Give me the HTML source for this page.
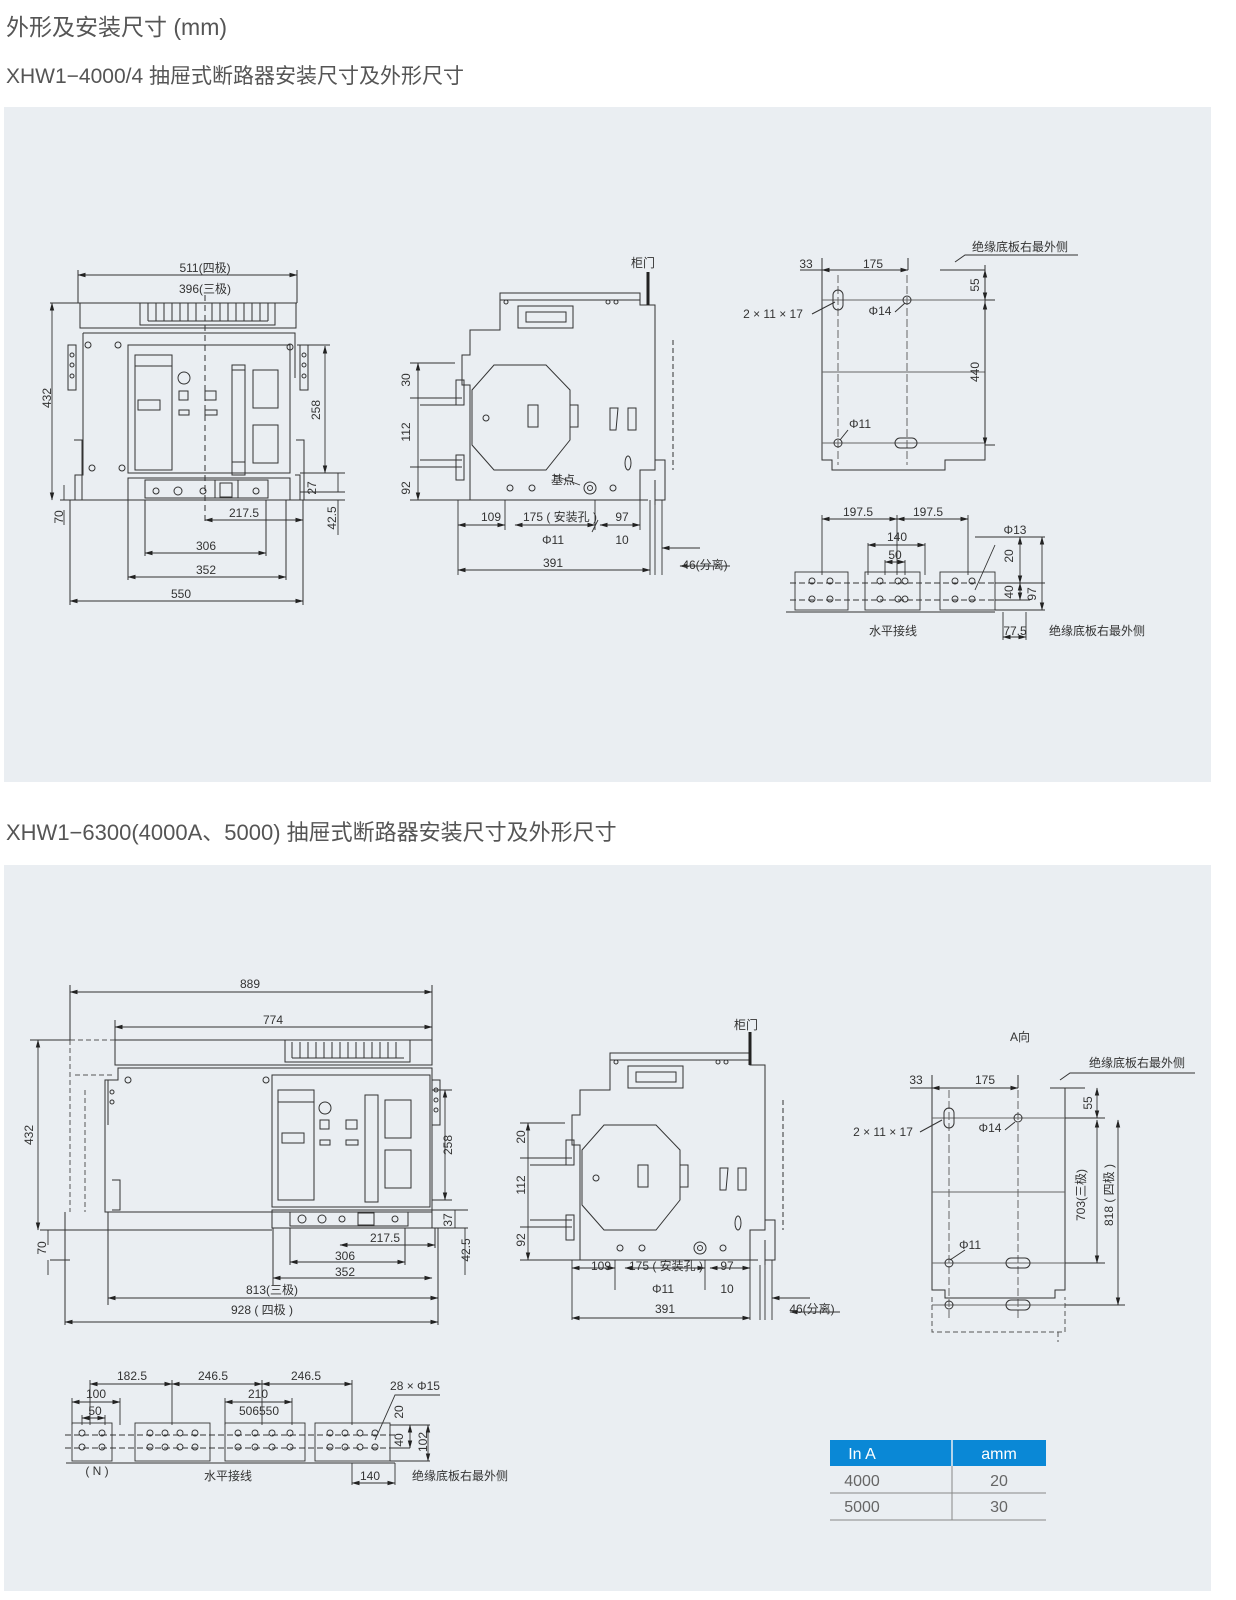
<!DOCTYPE html>
<html><head><meta charset="utf-8"><style>
html,body{margin:0;padding:0;background:#fff}
svg{display:block}
text{font-family:"Liberation Sans","Noto Sans CJK SC",sans-serif;fill:#333}
.d{font-size:12px}
.h{fill:#555}
</style></head><body>
<svg width="1236" height="1600" viewBox="0 0 1236 1600" xmlns="http://www.w3.org/2000/svg">
<defs>
<marker id="a" markerWidth="8" markerHeight="6" refX="7.5" refY="3" orient="auto-start-reverse" markerUnits="userSpaceOnUse"><path d="M0,0.8 L8,3 L0,5.2z" fill="#222"/></marker>
<g id="side" fill="none" stroke="#333" stroke-width="1">
<path d="M500,293 H640 V305 H655 V470 H640 V500 H470 V385 H462 V355 H470 V330 H500 Z"/>
<path d="M500,300 H640"/>
<rect x="518" y="306" width="55" height="22"/><rect x="526" y="312" width="40" height="10"/>
<path d="M494,365 L546,365 L570,390 L570,440 L546,470 L494,470 L472,445 L472,390 Z"/>
<rect x="528" y="405" width="10" height="22"/><rect x="570" y="405" width="8" height="22"/>
<path d="M610,408 h8 l-2,22 h-6z M628,408 h8 v22 h-8z"/>
<ellipse cx="628" cy="463" rx="3" ry="7"/>
<path d="M420,398 H462 M420,405 H462 M420,460 H462 M420,467 H462"/>
<rect x="456" y="380" width="8" height="25"/><rect x="456" y="455" width="8" height="25"/>
<circle cx="510" cy="488" r="3"/><circle cx="532" cy="488" r="3"/><circle cx="590" cy="488" r="6"/><circle cx="590" cy="488" r="2.5"/><circle cx="613" cy="488" r="3"/>
<circle cx="486" cy="418" r="3"/><circle cx="506" cy="302" r="2"/><circle cx="608" cy="302" r="2"/><circle cx="616" cy="302" r="2"/>
<path d="M673,340 V470" stroke-dasharray="5,3"/>
<path d="M648,500 H640 M655,480 V505"/>
<path d="M655,460 H665 V500 H655"/>
</g>
</defs>

<text x="6" y="35" font-size="23" class="h">外形及安装尺寸 (mm)</text>
<text x="6" y="83" font-size="21" class="h">XHW1−4000/4 抽屉式断路器安装尺寸及外形尺寸</text>
<rect x="4" y="107" width="1207" height="675" fill="#eaeef2"/>
<text x="6" y="840" font-size="22" class="h">XHW1−6300(4000A、5000) 抽屉式断路器安装尺寸及外形尺寸</text>
<rect x="4" y="865" width="1207" height="726" fill="#eaeef2"/>

<!-- FIG 1 front -->
<g fill="none" stroke="#333" stroke-width="1">
<path d="M50,303 H297"/>
<rect x="80" y="303" width="216" height="25"/>
<rect x="140" y="303" width="135" height="22"/>
<path d="M148,303 v18 M156,303 v18 M164,303 v18 M172,303 v18 M180,303 v18 M188,303 v18 M196,303 v18 M212,303 v18 M220,303 v18 M228,303 v18 M236,303 v18 M244,303 v18 M252,303 v18 M260,303 v18 M268,303 v18 M148,321 H268"/>
<path d="M83,333 H295 V378 M83,333 V475 H75 V500 H300 V475 H295"/>
<rect x="128" y="345" width="162" height="128"/>
<rect x="135" y="355" width="37" height="115"/><path d="M135,366 H172"/><rect x="138" y="400" width="22" height="10"/>
<circle cx="184" cy="378" r="6"/><rect x="179" y="391" width="9" height="9"/><rect x="179" y="410" width="10" height="5"/>
<rect x="205" y="391" width="11" height="9"/><rect x="205" y="410" width="12" height="5"/>
<rect x="232" y="365" width="13" height="110"/><path d="M232,370 H245 M232,462 H245"/>
<rect x="253" y="370" width="25" height="38"/><rect x="253" y="425" width="25" height="38"/>
<rect x="128" y="478" width="162" height="22"/><path d="M145,480 V498 H268 V480 Z M215,480 v18 M238,480 v18"/>
<circle cx="156" cy="491" r="3"/><circle cx="178" cy="491" r="4"/><circle cx="203" cy="491" r="3"/><circle cx="256" cy="491" r="3"/><rect x="220" y="483" width="12" height="14"/>
<path d="M68,345 h8 v45 h-8z M300,345 h8 v45 h-8z"/>
<circle cx="72" cy="355" r="2"/><circle cx="72" cy="365" r="2"/><circle cx="72" cy="376" r="2"/><circle cx="304" cy="355" r="2"/><circle cx="304" cy="365" r="2"/><circle cx="304" cy="376" r="2"/>
<circle cx="88" cy="345" r="3"/><circle cx="118" cy="345" r="3"/><circle cx="290" cy="347" r="3"/><circle cx="92" cy="468" r="3"/><circle cx="122" cy="468" r="3"/>
<path d="M74,440 H82 V500 M296,440 H304 V500"/>
<path d="M205,295 V525" stroke-dasharray="6,4"/>
<path d="M297,345 H330 M300,473 H345 M300,492 H345 M300,500 H345 M60,500 H75"/>
<path d="M70,500 V605 M303,500 V605 M128,500 V580 M286,500 V580 M145,500 V556 M266,500 V556 M78,270 V303 M297,270 V303"/>
</g>
<g stroke="#333" stroke-width="0.9" marker-start="url(#a)" marker-end="url(#a)">
<path d="M78,275 H297"/><path d="M52,303 V500"/><path d="M325,346 V473"/>
<path d="M205,520 H303"/><path d="M145,553 H266"/><path d="M128,577 H286"/><path d="M70,601 H303"/>
</g>
<g stroke="#333" stroke-width="0.9"><path d="M64,485 V500 M64,510 V525 M338,473 V492 M338,500 V535"/></g>
<g class="d" text-anchor="middle">
<text x="205" y="272">511(四极)</text><text x="205" y="293">396(三极)</text>
<text x="244" y="517">217.5</text><text x="206" y="550">306</text><text x="206" y="574">352</text><text x="181" y="598">550</text>
<text transform="translate(51,398) rotate(-90)">432</text><text transform="translate(63,517) rotate(-90)">70</text>
<text transform="translate(320,410) rotate(-90)">258</text><text transform="translate(316,488) rotate(-90)">27</text>
<text transform="translate(336,518) rotate(-90)">42.5</text>
</g>

<!-- FIG 2 side -->
<use href="#side"/>
<path d="M648,272 V305" stroke="#222" stroke-width="3"/>
<g stroke="#333" stroke-width="0.9" fill="none">
<path d="M410,363 H455 M410,398 H420 M410,467 H420 M410,500 H470"/>
<path d="M458,500 V575 M505,500 V530 M595,500 V530 M640,500 V530 M650,500 V575 M655,505 V575 M662,500 V575"/>
<path d="M553,475 L580,485" /><path d="M592,532 L598,520"/>
</g>
<g stroke="#333" stroke-width="0.9" marker-start="url(#a)" marker-end="url(#a)">
<path d="M418,363 V500"/><path d="M458,525 H505"/><path d="M515,525 H595"/><path d="M600,525 H640"/><path d="M458,570 H650"/>
</g>
<g stroke="#333" stroke-width="0.9" marker-end="url(#a)"><path d="M700,548 H662"/><path d="M730,566 H680"/></g>
<g class="d" text-anchor="middle">
<text x="643" y="267">柜门</text><text x="563" y="484">基点</text>
<text transform="translate(410,380) rotate(-90)">30</text><text transform="translate(410,432) rotate(-90)">112</text><text transform="translate(410,488) rotate(-90)">92</text>
<text x="491" y="521">109</text><text x="560" y="521">175 ( 安装孔 )</text><text x="622" y="521">97</text>
<text x="553" y="544">Φ11</text><text x="622" y="544">10</text><text x="553" y="567">391</text><text x="705" y="569">46(分离)</text>
</g>

<!-- FIG 3 plate -->
<g fill="none" stroke="#333" stroke-width="1">
<path d="M822,270 V460 H832 V470 H945 V460 H985 V270 H940 V270"/>
<path d="M822,300 H985 M822,372 H985 M822,443 H985" stroke="#666"/>
<path d="M907,275 V465 M838,275 V465" stroke="#666" stroke-dasharray="8,3"/>
<rect x="833" y="290" width="10" height="20" rx="5"/><circle cx="907" cy="300" r="4"/><circle cx="838" cy="443" r="4"/><rect x="895" y="438" width="22" height="10" rx="5"/>
<path d="M940,270 H985 V265 M955,262 L965,255 H1078"/>
<path d="M800,270 H822 M985,300 H995 M985,445 H995 M822,258 V270 M908,258 V270"/>
<path d="M812,314 L835,302 M895,312 L905,303 M848,430 L840,440"/>
</g>
<g stroke="#333" stroke-width="0.9" marker-start="url(#a)" marker-end="url(#a)"><path d="M822,270 H908"/><path d="M985,270 V300"/><path d="M985,302 V445"/></g>
<g class="d" text-anchor="middle">
<text x="1020" y="251">绝缘底板右最外侧</text><text x="806" y="268">33</text><text x="873" y="268">175</text>
<text x="773" y="318">2 × 11 × 17</text><text x="880" y="315">Φ14</text><text x="860" y="428">Φ11</text>
<text transform="translate(979,285) rotate(-90)">55</text><text transform="translate(979,372) rotate(-90)">440</text>
</g>

<!-- FIG 4 wiring -->
<g fill="none" stroke="#333" stroke-width="0.9">
<rect x="795" y="572" width="53" height="38"/><rect x="865" y="572" width="55" height="38"/><rect x="940" y="572" width="55" height="38"/>
<path d="M790,583 H1000 M790,600 H1000" stroke-dasharray="6,3"/>
<path d="M786,612 H995 M822,515 V575 M897,515 V575 M968,515 V575 M868,543 V575 M925,543 V575 M885,560 V575 M905,560 V575 M975,537 H1045 M995,583 H1045 M995,600 H1030 M995,610 H1045 M1003,612 V640 M1026,612 V640"/>
<circle cx="812" cy="581" r="3"/><circle cx="830" cy="581" r="3"/><circle cx="812" cy="599" r="3"/><circle cx="830" cy="599" r="3"/>
<circle cx="880" cy="581" r="3"/><circle cx="898" cy="581" r="3"/><circle cx="905" cy="581" r="3"/><circle cx="880" cy="599" r="3"/><circle cx="898" cy="599" r="3"/><circle cx="905" cy="599" r="3"/>
<circle cx="955" cy="581" r="3"/><circle cx="972" cy="581" r="3"/><circle cx="955" cy="599" r="3"/><circle cx="972" cy="599" r="3"/>
<path d="M975,590 L995,545"/>
</g>
<g stroke="#333" stroke-width="0.9" marker-start="url(#a)" marker-end="url(#a)"><path d="M822,519 H897"/><path d="M897,519 H968"/><path d="M868,545 H925"/><path d="M885,562 H905"/><path d="M1020,537 V583"/><path d="M1020,583 V600"/><path d="M1042,537 V610"/><path d="M1003,637 H1026"/></g>
<g class="d" text-anchor="middle">
<text x="858" y="516">197.5</text><text x="928" y="516">197.5</text><text x="897" y="541">140</text><text x="895" y="559">50</text><text x="1015" y="534">Φ13</text>
<text transform="translate(1013,556) rotate(-90)">20</text><text transform="translate(1013,592) rotate(-90)">40</text><text transform="translate(1036,594) rotate(-90)">97</text>
<text x="893" y="635">水平接线</text><text x="1015" y="635">77.5</text><text x="1097" y="635">绝缘底板右最外侧</text>
</g>

<!-- FIG 5 front large -->
<g fill="none" stroke="#333" stroke-width="1">
<rect x="115" y="1040" width="317" height="25"/>
<rect x="285" y="1040" width="125" height="22"/>
<path d="M292,1042 v16 M300,1042 v16 M308,1042 v16 M316,1042 v16 M324,1042 v16 M332,1042 v16 M340,1042 v16 M348,1042 v16 M356,1042 v16 M364,1042 v16 M372,1042 v16 M380,1042 v16 M388,1042 v16 M396,1042 v16 M292,1058 H404"/>
<path d="M118,1068 H432 V1212 H105 V1080 H118 Z"/>
<path d="M70,1040 H115 M70,1040 V1212 M75,1075 H115 M85,1090 V1212" stroke-dasharray="5,3" stroke="#555"/>
<rect x="272" y="1075" width="158" height="132"/>
<rect x="278" y="1090" width="36" height="110"/><path d="M278,1102 H314"/><rect x="282" y="1133" width="22" height="10"/>
<circle cx="325" cy="1108" r="6"/><rect x="320" y="1120" width="9" height="9"/><rect x="320" y="1140" width="10" height="5"/>
<rect x="346" y="1120" width="11" height="9"/><rect x="346" y="1140" width="12" height="5"/>
<rect x="365" y="1095" width="13" height="107"/>
<rect x="385" y="1100" width="26" height="38"/><rect x="385" y="1150" width="26" height="38"/>
<rect x="272" y="1210" width="160" height="18"/><path d="M290,1212 V1226 H408 V1212 Z"/>
<circle cx="302" cy="1219" r="4"/><circle cx="322" cy="1219" r="4"/><circle cx="342" cy="1219" r="3"/><rect x="358" y="1213" width="16" height="12"/><circle cx="395" cy="1219" r="3"/>
<path d="M432,1080 h8 v45 h-8 M108,1080 v45 M112,1180 h8 v30 h-8"/>
<circle cx="128" cy="1080" r="3"/><circle cx="266" cy="1080" r="3"/><circle cx="436" cy="1090" r="2"/><circle cx="436" cy="1100" r="2"/><circle cx="436" cy="1110" r="2"/><circle cx="112" cy="1092" r="2"/><circle cx="112" cy="1102" r="2"/>
<path d="M30,1040 H70 M40,1230 H272 M50,1260 H70 M432,1090 H452 M432,1200 H452 M432,1210 H468 M432,1228 H468"/>
<path d="M70,985 V1040 M432,985 V1040 M115,1020 V1040 M65,1212 V1325 M108,1212 V1305 M438,1228 V1325 M273,1228 V1285 M290,1228 V1265 M405,1228 V1265 M435,1228 V1248"/>
</g>
<g stroke="#333" stroke-width="0.9" marker-start="url(#a)" marker-end="url(#a)">
<path d="M70,992 H432"/><path d="M115,1027 H432"/><path d="M38,1040 V1230"/><path d="M445,1090 V1200"/>
<path d="M340,1245 H435"/><path d="M290,1262 H405"/><path d="M273,1278 H432"/><path d="M108,1298 H438"/><path d="M65,1322 H438"/>
</g>
<g stroke="#333" stroke-width="0.9"><path d="M48,1245 V1230 M48,1260 V1275 M455,1210 V1228 M465,1228 V1275"/></g>
<g class="d" text-anchor="middle">
<text x="250" y="988">889</text><text x="273" y="1024">774</text>
<text transform="translate(33,1135) rotate(-90)">432</text><text transform="translate(46,1248) rotate(-90)">70</text>
<text transform="translate(452,1145) rotate(-90)">258</text><text transform="translate(452,1220) rotate(-90)">37</text><text transform="translate(470,1250) rotate(-90)">42.5</text>
<text x="385" y="1242">217.5</text><text x="345" y="1260">306</text><text x="345" y="1276">352</text><text x="272" y="1294">813(三极)</text><text x="262" y="1314">928 ( 四极 )</text>
</g>

<!-- FIG 6 side large -->
<use href="#side" transform="translate(110,760)"/>
<path d="M750,1032 V1065" stroke="#222" stroke-width="3"/>
<g stroke="#333" stroke-width="0.9" fill="none">
<path d="M520,1123 H565 M520,1158 H530 M520,1227 H530 M520,1260 H580"/>
<path d="M572,1260 V1320 M615,1260 V1290 M705,1260 V1290 M750,1260 V1320 M760,1265 V1320 M765,1265 V1320 M772,1260 V1320"/>
</g>
<g stroke="#333" stroke-width="0.9" marker-start="url(#a)" marker-end="url(#a)">
<path d="M528,1123 V1260"/><path d="M572,1268 H615"/><path d="M625,1268 H705"/><path d="M710,1268 H750"/><path d="M572,1318 H750"/>
</g>
<g stroke="#333" stroke-width="0.9" marker-end="url(#a)"><path d="M810,1298 H772"/><path d="M840,1312 H790"/></g>
<g class="d" text-anchor="middle">
<text x="746" y="1029">柜门</text>
<text transform="translate(525,1137) rotate(-90)">20</text><text transform="translate(525,1185) rotate(-90)">112</text><text transform="translate(525,1240) rotate(-90)">92</text>
<text x="601" y="1270">109</text><text x="666" y="1270">175 ( 安装孔 )</text><text x="727" y="1270">97</text>
<text x="663" y="1293">Φ11</text><text x="727" y="1293">10</text><text x="665" y="1313">391</text><text x="812" y="1313">46(分离)</text>
</g>

<!-- FIG 7 plate large -->
<g fill="none" stroke="#333" stroke-width="1">
<path d="M932,1088 V1290 H945 V1298 H1055 V1290 H1065 V1088"/>
<path d="M932,1297 V1332 H1065 V1297 M1058,1332 V1342" stroke-dasharray="5,3" stroke="#555"/>
<path d="M932,1118 H1065 M932,1192 H1065 M932,1263 H1065 M932,1305 H1065" stroke="#666"/>
<path d="M949,1090 V1320 M1018,1090 V1320" stroke="#666" stroke-dasharray="8,3"/>
<rect x="944" y="1108" width="10" height="20" rx="5"/><circle cx="1018" cy="1118" r="4"/><circle cx="949" cy="1263" r="4"/><circle cx="949" cy="1305" r="4"/>
<rect x="1006" y="1258" width="24" height="10" rx="5"/><rect x="1006" y="1300" width="24" height="10" rx="5"/>
<path d="M1050,1088 H1085 M1060,1080 L1070,1073 H1195"/>
<path d="M910,1088 H932 M1065,1118 H1105 M1065,1305 H1125 M1065,1263 H1105 M932,1075 V1088 M1018,1075 V1088"/>
<path d="M920,1132 L942,1120 M1005,1130 L1015,1122 M965,1250 L950,1260"/>
</g>
<g stroke="#333" stroke-width="0.9" marker-start="url(#a)" marker-end="url(#a)"><path d="M932,1088 H1018"/><path d="M1097,1088 V1118"/><path d="M1097,1120 V1263"/><path d="M1118,1120 V1305"/></g>
<g class="d" text-anchor="middle">
<text x="1020" y="1041">A向</text><text x="1137" y="1067">绝缘底板右最外侧</text><text x="916" y="1084">33</text><text x="985" y="1084">175</text>
<text x="883" y="1136">2 × 11 × 17</text><text x="990" y="1132">Φ14</text><text x="970" y="1249">Φ11</text>
<text transform="translate(1092,1103) rotate(-90)">55</text><text transform="translate(1085,1195) rotate(-90)">703(三极)</text><text transform="translate(1113,1195) rotate(-90)">818 ( 四极 )</text>
</g>

<!-- FIG 8 wiring large -->
<g fill="none" stroke="#333" stroke-width="0.9">
<rect x="72" y="1423" width="40" height="38"/><rect x="135" y="1423" width="75" height="38"/><rect x="225" y="1423" width="80" height="38"/><rect x="315" y="1423" width="75" height="38"/>
<path d="M65,1435 H395 M65,1448 H395" stroke-dasharray="6,3"/>
<path d="M66,1463 H395 M90,1380 V1425 M172,1380 V1425 M262,1380 V1425 M352,1380 V1425 M72,1398 V1425 M120,1398 V1425 M225,1398 V1425 M292,1398 V1425 M82,1415 V1425 M105,1415 V1425 M390,1425 H430 M390,1448 H410 M390,1461 H430 M352,1463 V1485 M395,1463 V1485"/>
<circle cx="82" cy="1433" r="3"/><circle cx="102" cy="1433" r="3"/><circle cx="82" cy="1447" r="3"/><circle cx="102" cy="1447" r="3"/>
<circle cx="150" cy="1433" r="3"/><circle cx="165" cy="1433" r="3"/><circle cx="180" cy="1433" r="3"/><circle cx="195" cy="1433" r="3"/><circle cx="150" cy="1447" r="3"/><circle cx="165" cy="1447" r="3"/><circle cx="180" cy="1447" r="3"/><circle cx="195" cy="1447" r="3"/>
<circle cx="238" cy="1433" r="3"/><circle cx="255" cy="1433" r="3"/><circle cx="272" cy="1433" r="3"/><circle cx="290" cy="1433" r="3"/><circle cx="238" cy="1447" r="3"/><circle cx="255" cy="1447" r="3"/><circle cx="272" cy="1447" r="3"/><circle cx="290" cy="1447" r="3"/>
<circle cx="330" cy="1433" r="3"/><circle cx="345" cy="1433" r="3"/><circle cx="360" cy="1433" r="3"/><circle cx="375" cy="1433" r="3"/><circle cx="330" cy="1447" r="3"/><circle cx="345" cy="1447" r="3"/><circle cx="360" cy="1447" r="3"/><circle cx="375" cy="1447" r="3"/>
<path d="M375,1440 L395,1395 H440"/>
</g>
<g stroke="#333" stroke-width="0.9" marker-start="url(#a)" marker-end="url(#a)"><path d="M90,1384 H172"/><path d="M172,1384 H262"/><path d="M262,1384 H352"/><path d="M72,1402 H120"/><path d="M225,1402 H292"/><path d="M82,1418 H105"/><path d="M410,1425 V1448"/><path d="M428,1425 V1461"/><path d="M352,1483 H395"/></g>
<g class="d" text-anchor="middle">
<text x="132" y="1380">182.5</text><text x="213" y="1380">246.5</text><text x="306" y="1380">246.5</text><text x="96" y="1398">100</text><text x="258" y="1398">210</text>
<text x="95" y="1415">50</text><text x="259" y="1415">506550</text><text x="415" y="1390">28 × Φ15</text>
<text transform="translate(403,1412) rotate(-90)">20</text><text transform="translate(403,1440) rotate(-90)">40</text><text transform="translate(427,1442) rotate(-90)">102</text>
<text x="97" y="1475">( N )</text><text x="228" y="1480">水平接线</text><text x="370" y="1480">140</text><text x="460" y="1480">绝缘底板右最外侧</text>
</g>

<!-- table -->
<rect x="830" y="1440" width="216" height="26" fill="#0a88d6"/>
<path d="M952,1440 V1520" stroke="#888" stroke-width="1"/><path d="M952,1440 V1466" stroke="#eaeef2" stroke-width="1.5"/>
<path d="M830,1493 H1046 M830,1520 H1046" stroke="#888" stroke-width="1"/>
<g font-size="16" text-anchor="middle">
<text x="862" y="1459" style="fill:#fff">In  A</text><text x="999" y="1459" style="fill:#fff">amm</text>
<text x="862" y="1486" style="fill:#666">4000</text><text x="999" y="1486" style="fill:#666">20</text>
<text x="862" y="1512" style="fill:#666">5000</text><text x="999" y="1512" style="fill:#666">30</text>
</g>
</svg>
</body></html>
